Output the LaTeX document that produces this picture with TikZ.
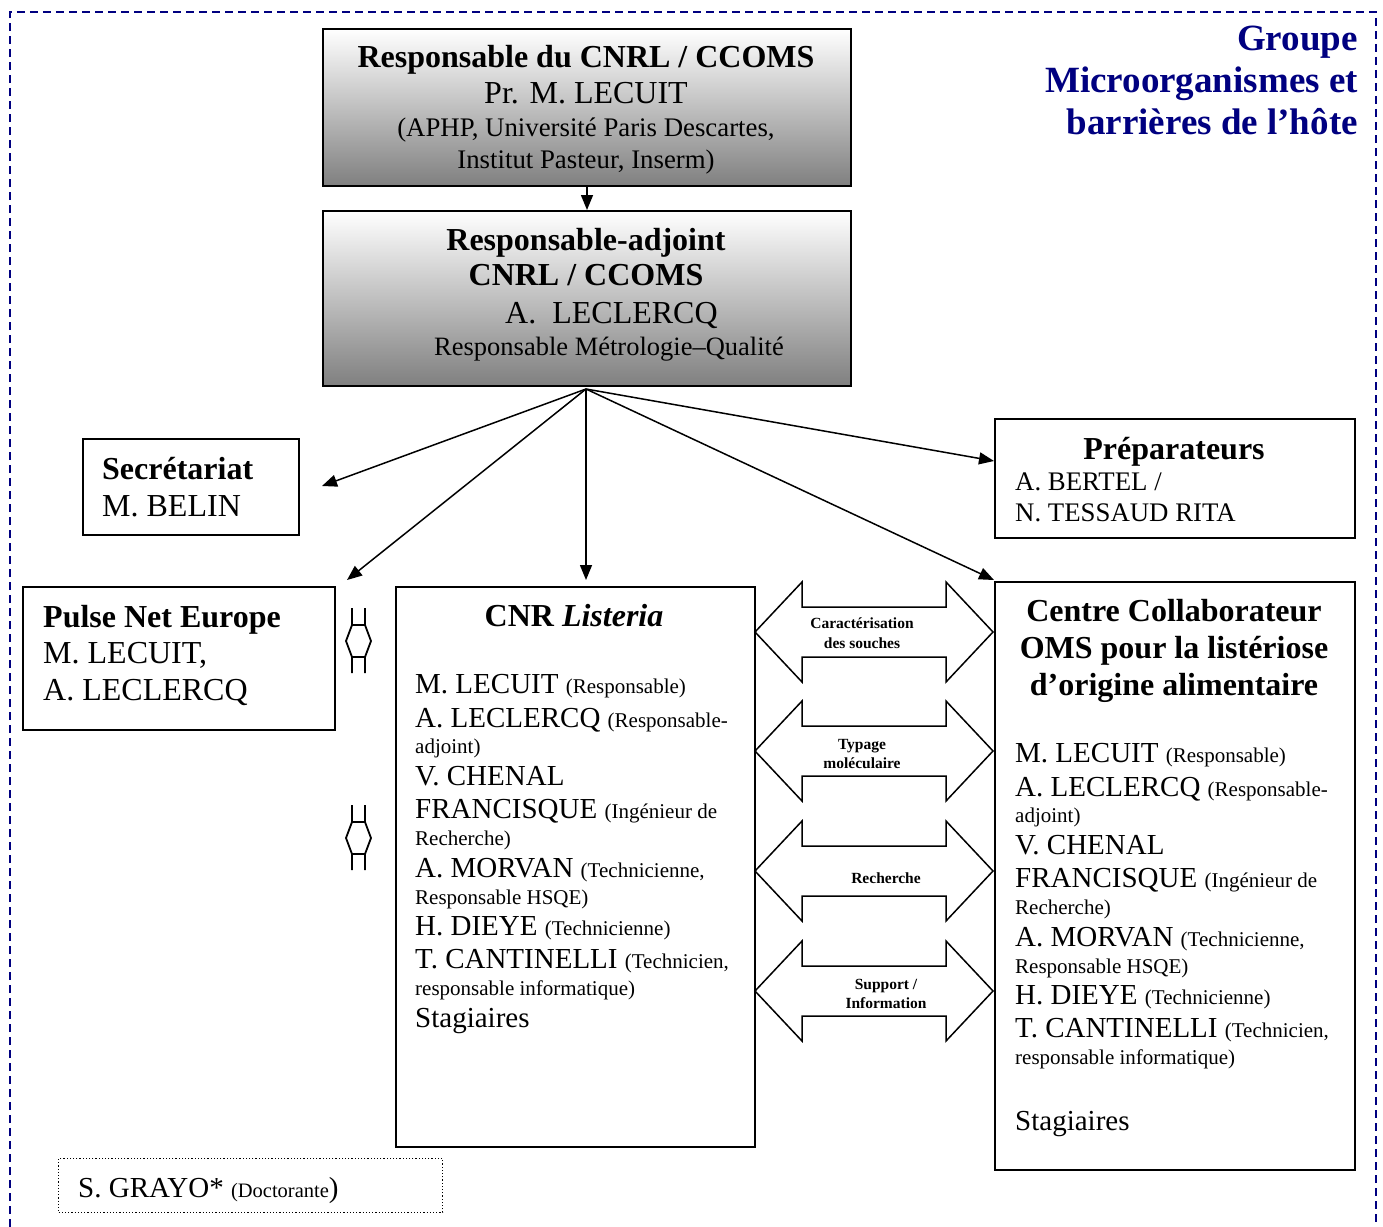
\documentclass[tikz,border=0pt]{standalone}
\usepackage{fontspec}
\setmainfont{Liberation Serif}
\usetikzlibrary{arrows.meta}
\definecolor{navyc}{RGB}{0,0,128}
\newcommand\fz[1]{\fontsize{#1}{#1}\selectfont}
\newcommand\lgtxt{\fz{29}}
\newcommand\smtxt{\fz{21}}
\begin{document}
\begin{tikzpicture}[x=1pt,y=-1pt,
  box/.style={draw, line width=2pt, inner sep=0pt, anchor=north west},
  grad/.style={box, top color=white, bottom color=black!50},
  arr/.style={line width=1.5pt, -{Triangle[length=15pt,width=12pt]}},
  tl/.style={anchor=base west, inner sep=0pt},
  tc/.style={anchor=base, inner sep=0pt},
  tr/.style={anchor=base east, inner sep=0pt},
  albl/.style={anchor=base, inner sep=0pt, font=\fz{15.5}\bfseries},
  dblarr/.pic={\draw[line width=1.5pt, line join=miter, fill=white]
     (-119,0) -- (-72,-50) -- (-72,-25) -- (72,-25) -- (72,-50) -- (119,0)
     -- (72,50) -- (72,25) -- (-72,25) -- (-72,50) -- cycle;},
  tinyarr/.pic={\draw[line width=1.8pt]
     (-6.5,-33) -- (-6.5,-16) -- (-12.5,0) -- (-6.5,16) -- (-6.5,32)
     (6.5,-33) -- (6.5,-16) -- (12.5,0) -- (6.5,16) -- (6.5,32)
     (-6.5,-16) -- (6.5,-16) (-6.5,16) -- (6.5,16);}
]
\useasboundingbox (0,0) rectangle (1383,1226);
\draw[navyc, line width=2pt, dash pattern=on 8pt off 5pt] (10,1240) -- (10,12) -- (1376,12) -- (1376,1240);

% title
\node[tr, text=navyc] (g1) at (1358,50) {\fz{37}\bfseries Groupe};
\node[tr, text=navyc] (g2) at (1358,92) {\fz{37}\bfseries Microorganismes et};
\node[tr, text=navyc] (g3) at (1358,134) {\fz{37}\bfseries barrières de l’hôte};

% boxes
\node[grad, minimum width=528pt, minimum height=157pt] (b1) at (322,28) {};
\node[grad, minimum width=528pt, minimum height=175pt] (b2) at (322,210) {};
\node[box, minimum width=216pt, minimum height=96pt] (sec) at (82,438) {};
\node[box, minimum width=360pt, minimum height=119pt] (prep) at (994,418) {};
\node[box, minimum width=312pt, minimum height=143pt] (pulse) at (22,586) {};
\node[box, minimum width=359pt, minimum height=560pt] (cnr) at (395,586) {};
\node[box, minimum width=360pt, minimum height=588pt] (ctr) at (994,581) {};
\node[draw, dotted, line width=1.2pt, anchor=north west, inner sep=0pt,
      minimum width=384pt, minimum height=54pt] (gr) at (58,1158) {};

% connectors
\coordinate (aSec) at (322,486);
\coordinate (aPul) at (347,580);
\coordinate (aCnr) at (586,580);
\coordinate (aPre) at (994,461);
\coordinate (aCtr) at (994,580);
\coordinate (src) at (586,389);
\draw[arr] (b1.south) -- (b2.north);
\draw[arr] (src) -- (aSec);
\draw[arr] (src) -- (aPul);
\draw[arr] (src) -- (aCnr);
\draw[arr] (src) -- (aPre);
\draw[arr] (src) -- (aCtr);

% box 1 text
\node[tc] (b1l1) at (586,67) {\fz{32}\bfseries Responsable du CNRL / CCOMS};
\node[tc] (b1l2) at (586,103) {\fz{32}Pr. M. LECUIT};
\node[tc] (b1l3) at (586,136) {\fz{26.8}(APHP, Université Paris Descartes,};
\node[tc] (b1l4) at (586,168) {\fz{26.8}Institut Pasteur, Inserm)};

% box 2 text
\node[tc] (b2l1) at (586,250) {\fz{32}\bfseries Responsable-adjoint};
\node[tc] (b2l2) at (586,285) {\fz{32}\bfseries CNRL / CCOMS};
\node[tl] (b2l3) at (505,323) {\fz{32}A.\ \ LECLERCQ};
\node[tl] (b2l4) at (434,355) {\fz{26.5}Responsable Métrologie–Qualité};

% secretariat
\node[tl] (s1) at (102,479) {\fz{32}\bfseries Secrétariat};
\node[tl] (s2) at (102,516) {\fz{32}M. BELIN};

% preparateurs
\node[tc] (p1) at (1174,459) {\fz{32}\bfseries Préparateurs};
\node[tl] (p2) at (1015,490) {\fz{26.8}A. BERTEL /};
\node[tl] (p3) at (1015,521) {\fz{26.8}N. TESSAUD RITA};

% pulse net
\node[tl] (pn1) at (43,627) {\fz{32}\bfseries Pulse Net Europe};
\node[tl] (pn2) at (43,663) {\fz{32}M. LECUIT,};
\node[tl] (pn3) at (43,700) {\fz{32}A. LECLERCQ};

% CNR
\node[tc] (c0) at (574,626) {\fz{32}\bfseries CNR \itshape Listeria};
\node[tl] (c1) at (415,693) {\lgtxt M. LECUIT {\smtxt(Responsable)}};
\node[tl] (c2) at (415,727) {\lgtxt A. LECLERCQ {\smtxt(Responsable-}};
\node[tl] (c3) at (415,753) {\smtxt adjoint)};
\node[tl] (c4) at (415,785) {\lgtxt V. CHENAL};
\node[tl] (c5) at (415,818) {\lgtxt FRANCISQUE {\smtxt(Ingénieur de}};
\node[tl] (c6) at (415,845) {\smtxt Recherche)};
\node[tl] (c7) at (415,877) {\lgtxt A. MORVAN {\smtxt(Technicienne,}};
\node[tl] (c8) at (415,904) {\smtxt Responsable HSQE)};
\node[tl] (c9) at (415,935) {\lgtxt H. DIEYE {\smtxt(Technicienne)}};
\node[tl] (c10) at (415,968) {\lgtxt T. CANTINELLI {\smtxt(Technicien,}};
\node[tl] (c11) at (415,995) {\smtxt responsable informatique)};
\node[tl] (c12) at (415,1027) {\lgtxt Stagiaires};

% Centre
\node[tc] (o1) at (1174,621) {\fz{32}\bfseries Centre Collaborateur};
\node[tc] (o2) at (1174,658) {\fz{32}\bfseries OMS pour la listériose};
\node[tc] (o3) at (1174,695) {\fz{32}\bfseries d’origine alimentaire};
\node[tl] (d1) at (1015,762) {\lgtxt M. LECUIT {\smtxt(Responsable)}};
\node[tl] (d2) at (1015,796) {\lgtxt A. LECLERCQ {\smtxt(Responsable-}};
\node[tl] (d3) at (1015,822) {\smtxt adjoint)};
\node[tl] (d4) at (1015,854) {\lgtxt V. CHENAL};
\node[tl] (d5) at (1015,887) {\lgtxt FRANCISQUE {\smtxt(Ingénieur de}};
\node[tl] (d6) at (1015,914) {\smtxt Recherche)};
\node[tl] (d7) at (1015,946) {\lgtxt A. MORVAN {\smtxt(Technicienne,}};
\node[tl] (d8) at (1015,973) {\smtxt Responsable HSQE)};
\node[tl] (d9) at (1015,1004) {\lgtxt H. DIEYE {\smtxt(Technicienne)}};
\node[tl] (d10) at (1015,1037) {\lgtxt T. CANTINELLI {\smtxt(Technicien,}};
\node[tl] (d11) at (1015,1064) {\smtxt responsable informatique)};
\node[tl] (d12) at (1015,1130) {\lgtxt Stagiaires};

% block arrows
\pic at (874,632) {dblarr};
\pic at (874,751) {dblarr};
\pic at (874,871) {dblarr};
\pic at (874,991) {dblarr};
\node[albl] (k1) at (862,628) {Caractérisation};
\node[albl] (k2) at (862,648) {des souches};
\node[albl] (k3) at (862,749) {Typage};
\node[albl] (k4) at (862,768) {moléculaire};
\node[albl] (k5) at (886,883) {Recherche};
\node[albl] (k6) at (886,989) {Support /};
\node[albl] (k7) at (886,1008) {Information};

% small symbols
\pic at (358.5,641) {tinyarr};
\pic at (358.5,838) {tinyarr};

% grayo
\node[tl] (gy) at (78,1197) {\fz{29}S. GRAYO* {\fz{20.5}(Doctorante}{)}};
\end{tikzpicture}
\end{document}
